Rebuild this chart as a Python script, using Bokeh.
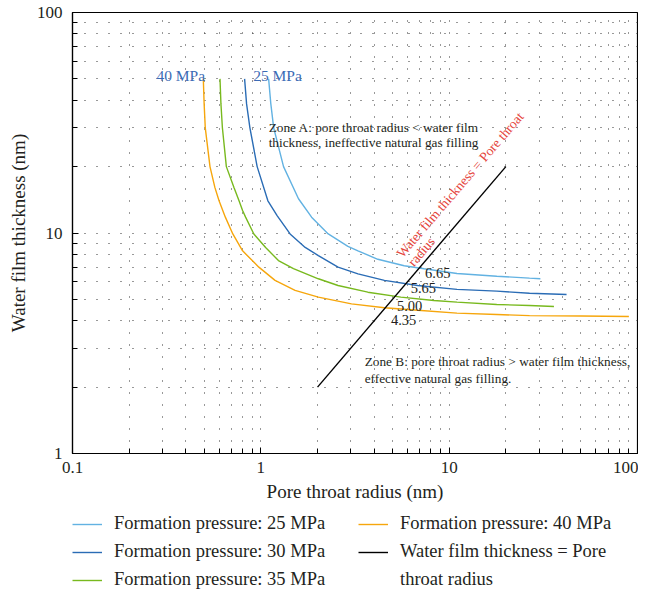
from bokeh.plotting import figure
from bokeh.layouts import column
from bokeh.models import FixedTicker, Legend, LegendItem, CustomJSTickFormatter
from bokeh.core.properties import value
from bokeh.embed import file_html
from bokeh.resources import INLINE

# ---------------- data ----------------
r_25 = [1.10, 1.13, 1.17, 1.32, 1.585, 1.86, 2.28, 2.9, 3.28, 4.18, 5.77, 7.36, 11.0, 17.9, 26.7, 30.5]
w_25 = [50, 38.5, 30, 20, 14.3, 11.8, 9.9, 8.7, 8.3, 7.6, 7.1, 6.88, 6.55, 6.37, 6.24, 6.2]

r_30 = [0.82, 0.84, 0.875, 0.956, 1.09, 1.22, 1.43, 1.72, 2.02, 2.57, 3.28, 4.53, 6.8, 11.0, 17.9, 26.7, 42]
w_30 = [50, 38.5, 30, 20, 14.0, 12.0, 9.9, 8.6, 7.9, 7.0, 6.53, 6.1, 5.78, 5.55, 5.45, 5.33, 5.26]

r_35 = [0.607, 0.614, 0.625, 0.656, 0.72, 0.766, 0.80, 0.83, 0.918, 1.06, 1.24, 1.49, 2.02, 2.57, 3.7, 5.54, 8.3, 11.0, 17.9, 26.7, 36]
w_35 = [50, 38.5, 30, 20, 16.1, 14.0, 12.65, 11.8, 9.9, 8.6, 7.5, 6.89, 6.2, 5.78, 5.39, 5.12, 4.94, 4.86, 4.74, 4.69, 4.64]

r_40 = [0.495, 0.50, 0.507, 0.537, 0.57, 0.60, 0.648, 0.71, 0.80, 0.976, 1.19, 1.52, 2.02, 3.03, 4.53, 6.8, 11.0, 17.9, 26.7, 50, 90]
w_40 = [50, 38.5, 30, 20, 16.1, 14.0, 11.8, 9.9, 8.3, 7.0, 6.1, 5.49, 5.12, 4.77, 4.58, 4.46, 4.33, 4.27, 4.22, 4.2, 4.18]

eq_r = [2, 20]
eq_w = [2, 20]

x_major = [0.1, 1, 10, 100]
x_minor = [m * 10.0 ** k for k in (-1, 0, 1) for m in range(2, 10)]
y_major = [1, 10, 100]
y_minor = [m * 10.0 ** k for k in (0, 1) for m in range(2, 10)]

legend_labels = ["Formation pressure: 25 MPa", "Formation pressure: 30 MPa",
                 "Formation pressure: 35 MPa", "Formation pressure: 40 MPa",
                 "Water film thickness = Pore", "throat radius"]

cross_labels = ["6.65", "5.65", "5.00", "4.35"]
cross_x = [7.45, 6.25, 5.28, 4.91]
cross_y = [6.58, 5.64, 4.68, 4.04]

FONT = "Liberation Serif"
TXT = "#231f20"
C25 = "#62b2e2"
C30 = "#2a6cb5"
C35 = "#78b91e"
C40 = "#f6a60c"
LBL_BLUE = "#3b6bb5"
RED = "#e5443b"
LW = 1.4

series = [(r_25, w_25, C25), (r_30, w_30, C30), (r_35, w_35, C35), (r_40, w_40, C40),
          (eq_r, eq_w, "black")]

# ---------------- main chart ----------------
p = figure(width=638, height=510, x_axis_type="log", y_axis_type="log",
           x_range=(0.1, 100), y_range=(1, 100), title=None,
           output_backend="svg", toolbar_location=None,
           min_border_left=72, min_border_right=1, min_border_top=12, min_border_bottom=57)

p.outline_line_color = "black"
p.outline_line_width = 1.2
p.background_fill_color = "white"

for ax, maj, mn in ((p.xaxis[0], x_major, x_minor), (p.yaxis[0], y_major, y_minor)):
    ax.ticker = FixedTicker(ticks=maj, minor_ticks=mn)
    ax.formatter = CustomJSTickFormatter(code="return tick.toString();")
    ax.major_tick_in = 6
    ax.major_tick_out = 0
    ax.minor_tick_in = 5
    ax.minor_tick_out = 0
    ax.axis_line_color = "black"
    ax.axis_line_width = 1.2
    ax.major_tick_line_color = "black"
    ax.minor_tick_line_color = "black"
    ax.major_label_text_font = FONT
    ax.major_label_text_font_size = "17px"
    ax.major_label_text_color = TXT
    ax.axis_label_text_font = FONT
    ax.axis_label_text_font_size = "19px"
    ax.axis_label_text_font_style = "normal"
    ax.axis_label_text_color = TXT
    ax.axis_label_standoff = 5

p.xaxis.axis_label = "Pore throat radius (nm)"
p.yaxis.axis_label = "Water film thickness (nm)"
p.xaxis.major_label_standoff = 8
p.yaxis.major_label_standoff = 10

for g in (p.xgrid[0], p.ygrid[0]):
    g.grid_line_color = "#333333"
    g.grid_line_dash = "1 11"
    g.grid_line_width = 1
    g.minor_grid_line_color = "#333333"
    g.minor_grid_line_dash = "1 11"
    g.minor_grid_line_width = 1

for xs, ys, c in series:
    p.line(xs, ys, line_color=c, line_width=LW)

# pressure labels
p.text(x=[0.279, 0.911], y=[51.8, 51.8], text=["40 MPa", "25 MPa"],
       text_font=value(FONT), text_font_size="15.5px", text_color=LBL_BLUE,
       text_align="left", text_baseline="alphabetic")

# zone texts
p.text(x=[1.10, 1.10], y=[30.2, 25.8],
       text=["Zone A: pore throat radius < water film", "thickness, ineffective natural gas filling"],
       text_font=value(FONT), text_font_size="13.3px", text_color=TXT,
       text_align="left", text_baseline="alphabetic")
p.text(x=[3.56, 3.56], y=[2.60, 2.18],
       text=["Zone B: pore throat radius > water film thickness,", "effective natural gas filling."],
       text_font=value(FONT), text_font_size="13.3px", text_color=TXT,
       text_align="left", text_baseline="alphabetic")

# rotated red label along the y = x line
p.text(x=[5.43, 6.24], y=[7.9, 7.21], text=["Water film thickness = Pore throat", "radius"],
       angle=0.86, text_font=value(FONT), text_font_size="13.6px", text_color=RED,
       text_align="left", text_baseline="alphabetic")

# crossing values
p.text(x=cross_x, y=cross_y, text=cross_labels,
       text_font=value(FONT), text_font_size="14.5px", text_color=TXT,
       text_align="left", text_baseline="alphabetic")

# ---------------- legend strip (same series; their lines lie outside this strip's ranges) ----------------
q = figure(width=638, height=80, x_range=(0, 1), y_range=(-2, -1), title=None,
           output_backend="svg", toolbar_location=None,
           x_axis_location=None, y_axis_location=None, min_border=0)
q.outline_line_color = None
q.grid.visible = False
q.background_fill_color = "white"

sw = [q.line(xs, ys, line_color=c, line_width=LW) for xs, ys, c in series]
sw.append(q.line(eq_r, eq_w, line_alpha=0))   # blank swatch for the wrapped label line

legend = Legend(items=[LegendItem(label=lab, renderers=[r]) for lab, r in zip(legend_labels, sw)],
                location=(0, 0), orientation="vertical", nrows=3,
                glyph_width=30, glyph_height=20, label_height=20, label_width=237,
                label_standoff=12, spacing=7, padding=0, margin=0,
                border_line_color=None, background_fill_alpha=0,
                label_text_font=FONT, label_text_font_size="18.5px", label_text_color=TXT)
q.add_layout(legend)

page = column(p, q, spacing=0)
open("out.html", "w").write(file_html(page, INLINE))
